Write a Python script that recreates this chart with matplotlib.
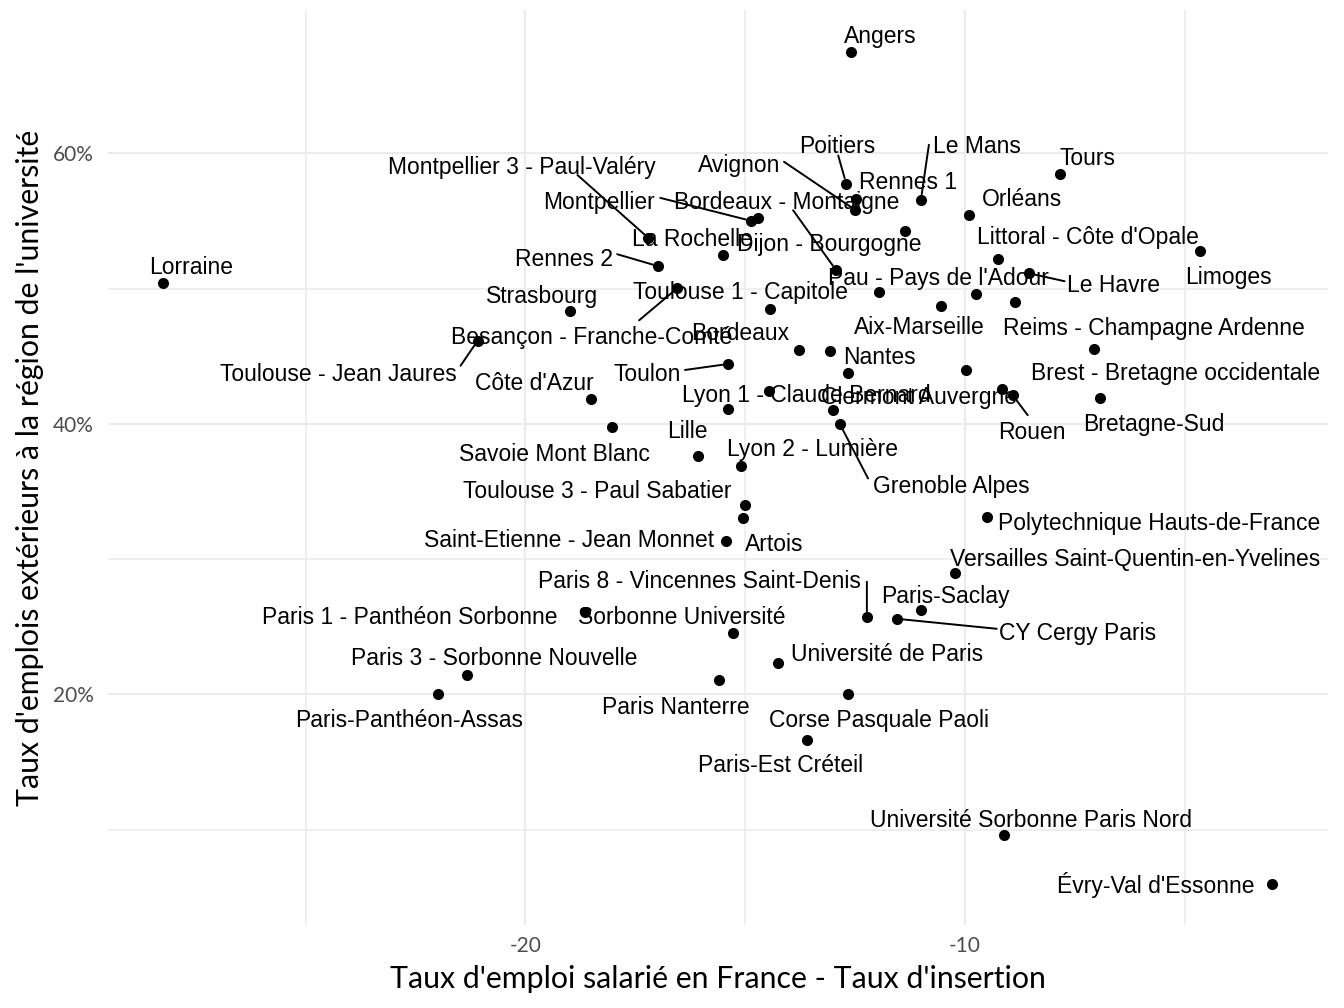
import numpy as np
import matplotlib.pyplot as plt
from matplotlib.ticker import PercentFormatter, FixedLocator

plt.rcParams["axes.unicode_minus"] = False

# data: écart taux d'emploi salarié - taux d'insertion (x) et part d'emplois hors région (y, %)
universites = [
    "Angers", "Lorraine", "Poitiers", "Le Mans", "Tours", "Rennes 1", "Avignon",
    "Orléans", "Montpellier", "", "Dijon - Bourgogne", "Montpellier 3 - Paul-Valéry",
    "La Rochelle", "Rennes 2", "Limoges", "Littoral - Côte d'Opale", "Le Havre",
    "Bordeaux - Montaigne", "Besançon - Franche-Comté", "Pau - Pays de l'Adour", "",
    "Aix-Marseille", "Reims - Champagne Ardenne", "Strasbourg", "Toulouse 1 - Capitole",
    "Toulouse - Jean Jaures", "Bordeaux", "Nantes", "Brest - Bretagne occidentale",
    "Toulon", "", "", "Lyon 1 - Claude Bernard", "Clermont Auvergne", "Rouen",
    "Bretagne-Sud", "Côte d'Azur", "Lille", "", "Grenoble Alpes", "Savoie Mont Blanc",
    "", "Lyon 2 - Lumière", "Toulouse 3 - Paul Sabatier", "Artois",
    "Saint-Etienne - Jean Monnet", "Polytechnique Hauts-de-France",
    "Versailles Saint-Quentin-en-Yvelines", "Paris-Saclay",
    "Paris 8 - Vincennes Saint-Denis", "CY Cergy Paris", "Paris 1 - Panthéon Sorbonne",
    "Sorbonne Université", "Université de Paris", "Paris 3 - Sorbonne Nouvelle",
    "Paris-Panthéon-Assas", "Paris Nanterre", "Corse Pasquale Paoli",
    "Paris-Est Créteil", "Université Sorbonne Paris Nord", "Évry-Val d'Essonne",
]
ecart = [
    -12.59, -28.25, -12.70, -11.00, -7.84, -12.48, -12.50,
    -9.91, -14.86, -14.70, -11.36, -17.20,
    -15.50, -16.98, -4.64, -9.25, -8.55,
    -12.93, -16.55, -11.95, -9.75,
    -10.55, -8.86, -18.98, -14.43,
    -21.09, -13.77, -13.07, -7.07,
    -15.39, -12.66, -9.98, -14.45, -9.16, -8.91,
    -6.93, -18.50, -15.39, -13.00, -12.84, -18.02,
    -16.07, -15.09, -15.00, -15.05,
    -15.43, -9.50,
    -10.23, -11.00,
    -12.23, -11.55, -18.64,
    -15.27, -14.25, -21.34,
    -22.00, -15.59, -12.66,
    -13.59, -9.11, -3.00,
]
emplois_ext = [
    67.52, 50.39, 57.77, 56.57, 58.44, 56.65, 55.83,
    55.46, 55.01, 55.23, 54.26, 53.74,
    52.48, 51.66, 52.77, 52.18, 51.14,
    51.36, 50.02, 49.72, 49.57,
    48.68, 48.98, 48.31, 48.53,
    46.15, 45.47, 45.40, 45.55,
    44.43, 43.76, 43.99, 42.42, 42.57, 42.12,
    41.90, 41.82, 41.08, 41.01, 39.96, 39.74,
    37.65, 36.91, 34.00, 33.04,
    31.32, 33.11,
    28.94, 26.26,
    25.74, 25.59, 26.11,
    24.54, 22.31, 21.42,
    20.00, 21.04, 20.00,
    16.65, 9.57, 6.00,
]

# placement des étiquettes (décalage en pixels, façon ggrepel)
label_offsets = {
    "Angers": (29, 19), "Lorraine": (28, 20), "Poitiers": (-9, 41), "Le Mans": (56, 57),
    "Tours": (28, 20), "Rennes 1": (52, 20), "Avignon": (-116, 48), "Orléans": (53, 19),
    "Montpellier": (-152, 22), "Dijon - Bourgogne": (-76, -9),
    "Montpellier 3 - Paul-Valéry": (-127, 75), "La Rochelle": (-31, 20),
    "Rennes 2": (-94, 11), "Limoges": (28, -22), "Littoral - Côte d'Opale": (90, 26),
    "Le Havre": (85, -8), "Bordeaux - Montaigne": (-49, 72),
    "Besançon - Franche-Comté": (-85, -45), "Pau - Pays de l'Adour": (59, 18),
    "Aix-Marseille": (-21, -17), "Reims - Champagne Ardenne": (139, -22),
    "Strasbourg": (-28, 19), "Toulouse 1 - Capitole": (-30, 20),
    "Toulouse - Jean Jaures": (-139, -30), "Bordeaux": (-59, 20), "Nantes": (49, -3),
    "Brest - Bretagne occidentale": (82, -21), "Toulon": (-81, -7),
    "Lyon 1 - Claude Bernard": (37, 0), "Clermont Auvergne": (-83, -4),
    "Rouen": (19, -33), "Bretagne-Sud": (54, -22), "Côte d'Azur": (-57, 20),
    "Lille": (-41, -18), "Grenoble Alpes": (111, -58), "Savoie Mont Blanc": (-58, -23),
    "Lyon 2 - Lumière": (71, 20), "Toulouse 3 - Paul Sabatier": (-148, 18),
    "Artois": (31, -22), "Saint-Etienne - Jean Monnet": (-157, 5),
    "Polytechnique Hauts-de-France": (172, -2),
    "Versailles Saint-Quentin-en-Yvelines": (180, 18), "Paris-Saclay": (24, 17),
    "Paris 8 - Vincennes Saint-Denis": (-167, 39), "CY Cergy Paris": (181, -11),
    "Paris 1 - Panthéon Sorbonne": (-175, -2), "Sorbonne Université": (-52, 19),
    "Université de Paris": (109, 13), "Paris 3 - Sorbonne Nouvelle": (28, 21),
    "Paris-Panthéon-Assas": (-28, -22), "Paris Nanterre": (-43, -23),
    "Corse Pasquale Paoli": (31, -22), "Paris-Est Créteil": (-27, -22),
    "Université Sorbonne Paris Nord": (27, 19), "Évry-Val d'Essonne": (-117, 3),
}
# début des segments (décalage en pixels depuis le point)
segment_starts = {
    "Poitiers": (-8, 28), "Le Mans": (8, 55), "Avignon": (-71, 48),
    "Montpellier 3 - Paul-Valéry": (-71, 63), "Montpellier": (-91, 23),
    "Bordeaux - Montaigne": (-43, 60), "Rennes 2": (-41, 12), "Le Havre": (36, -8),
    "Besançon - Franche-Comté": (-38, -32), "Toulouse - Jean Jaures": (-17, -25),
    "Toulon": (-43, -6), "Rouen": (15, -20), "Grenoble Alpes": (28, -54),
    "Paris 8 - Vincennes Saint-Denis": (0, 35), "CY Cergy Paris": (100, -10),
}

fig = plt.figure(figsize=(13.44, 10.08), dpi=100)
ax = fig.add_axes([0.080, 0.082, 0.908, 0.908])

ax.scatter(ecart, emplois_ext, s=64, color="black", linewidths=0, zorder=3)

for nom, x, y in zip(universites, ecart, emplois_ext):
    if not nom:
        continue
    dx, dy = label_offsets[nom]
    ax.annotate(nom, (x, y), xytext=(dx, dy - 4), textcoords="offset pixels",
                ha="center", va="center", fontsize=16.5,
                family="Liberation Sans", color="black", zorder=4)
    if nom in segment_starts:
        sx, sy = segment_starts[nom]
        ax.annotate("", (x, y), xytext=(sx, sy), textcoords="offset pixels",
                    arrowprops=dict(arrowstyle="-", color="black", lw=1.4,
                                    shrinkA=0, shrinkB=4), zorder=2)

ax.margins(0.05)
ax.xaxis.set_major_locator(FixedLocator([-20, -10]))
ax.xaxis.set_minor_locator(FixedLocator([-25, -15, -5]))
ax.yaxis.set_major_locator(FixedLocator([20, 40, 60]))
ax.yaxis.set_minor_locator(FixedLocator([10, 30, 50]))
ax.yaxis.set_major_formatter(PercentFormatter(decimals=0))

ax.grid(which="major", color="#EBEBEB", lw=1.5)
ax.grid(which="minor", color="#EBEBEB", lw=1.1)
ax.set_axisbelow(True)
for s in ax.spines.values():
    s.set_visible(False)
ax.tick_params(which="both", length=0, labelsize=15, labelcolor="#4D4D4D")
ax.tick_params(axis="x", pad=8)
ax.tick_params(axis="y", pad=10)
for t in ax.get_xticklabels() + ax.get_yticklabels():
    t.set_family("Lato")

ax.set_xlabel("Taux d'emploi salarié en France - Taux d'insertion",
              fontsize=21.8, family="Lato", labelpad=6)
ax.set_ylabel("Taux d'emplois extérieurs à la région de l'université",
              fontsize=21.8, family="Lato", labelpad=6)

fig.savefig("out.png", dpi=100, facecolor="white")
